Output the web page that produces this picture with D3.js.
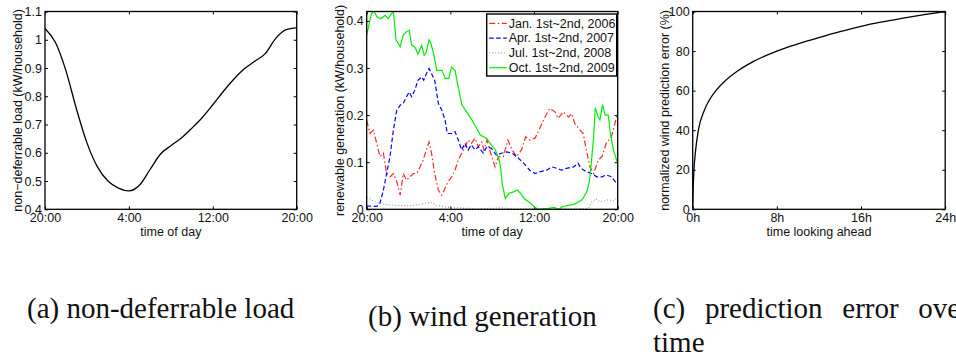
<!DOCTYPE html>
<html>
<head>
<meta charset="utf-8">
<script src="https://cdn.jsdelivr.net/npm/d3@7"></script>
<style>
	body { margin: 0; background: #fff; }
	svg { display: block; }
</style>
</head>
<body>
<script>
// ---- data ----

// (a) non-deferrable load, hourly, starting at 20:00
var loadHours = [0, 1, 2, 3, 4, 5, 6, 7, 8, 9, 10, 11, 12, 13, 14, 15, 16, 17, 18, 19, 20, 21, 22, 23, 24];
var loadValues = [1.04, 0.99, 0.89, 0.755, 0.635, 0.55, 0.50, 0.475, 0.465, 0.485, 0.54, 0.595, 0.625,
	0.652, 0.687, 0.725, 0.77, 0.817, 0.86, 0.897, 0.924, 0.951, 1.005, 1.036, 1.042];
var loadTicks = [0.4, 0.5, 0.6, 0.7, 0.8, 0.9, 1, 1.1];

// shared time-of-day axis (hours after 20:00)
var dayTicks = [0, 8, 16, 24];
var dayTickLabels = ['20:00', '4:00', '12:00', '20:00'];

// (b) wind generation, [hours after 20:00, kW/household]
var seriesNames = ['Jan. 1st~2nd, 2006', 'Apr. 1st~2nd, 2007', 'Jul. 1st~2nd, 2008', 'Oct. 1st~2nd, 2009'];
var jan2006 = [[0, 0.189], [0.32, 0.161], [0.64, 0.168], [0.96, 0.14], [1.27, 0.112], [1.6, 0.119], [1.9, 0.076],
	[2.23, 0.069], [2.55, 0.076], [2.87, 0.059], [3.2, 0.03], [3.5, 0.076], [3.8, 0.062], [4.14, 0.069],
	[4.46, 0.076], [4.78, 0.076], [5.1, 0.09], [5.4, 0.105], [5.7, 0.126], [5.96, 0.143], [6.2, 0.119],
	[6.5, 0.076], [6.85, 0.041], [7.17, 0.03], [7.5, 0.045], [7.8, 0.059], [8.13, 0.069], [8.44, 0.083],
	[8.76, 0.105], [9.08, 0.119], [9.4, 0.133], [9.7, 0.147], [10.0, 0.14], [10.36, 0.151], [10.67, 0.133],
	[11.0, 0.143], [11.2, 0.126], [11.5, 0.147], [11.95, 0.112], [12.27, 0.09], [12.6, 0.112], [13.06, 0.112],
	[13.5, 0.147], [13.9, 0.126], [14.34, 0.112], [14.8, 0.126], [15.2, 0.154], [15.6, 0.147], [16.1, 0.151],
	[16.6, 0.175], [17.05, 0.196], [17.5, 0.214], [18.0, 0.207], [18.3, 0.193], [18.8, 0.207], [19.3, 0.196],
	[19.6, 0.203], [19.9, 0.182], [20.4, 0.168], [20.7, 0.161], [21.0, 0.126], [21.35, 0.09], [21.7, 0.076],
	[22.15, 0.105], [22.5, 0.112], [22.9, 0.14], [23.4, 0.154], [23.9, 0.196], [24, 0.2]];
var apr2007 = [[0, 0.007], [0.96, 0.006], [1.27, 0.013], [1.6, 0.041], [1.9, 0.076], [2.23, 0.112], [2.55, 0.168],
	[2.87, 0.21], [3.2, 0.221], [3.5, 0.225], [3.8, 0.239], [4.07, 0.249], [4.3, 0.239], [4.6, 0.253],
	[4.9, 0.274], [5.26, 0.281], [5.45, 0.274], [5.7, 0.288], [5.96, 0.299], [6.2, 0.288], [6.5, 0.274],
	[6.85, 0.225], [7.17, 0.211], [7.5, 0.189], [7.7, 0.161], [8.13, 0.161], [8.44, 0.165], [8.76, 0.147],
	[9.08, 0.126], [9.4, 0.14], [9.7, 0.126], [10.0, 0.137], [10.36, 0.126], [10.67, 0.133], [11.15, 0.119],
	[11.5, 0.133], [11.95, 0.129], [12.4, 0.115], [12.9, 0.119], [13.4, 0.122], [13.9, 0.119], [14.34, 0.112],
	[15.0, 0.098], [15.6, 0.083], [16.1, 0.076], [16.6, 0.08], [17.2, 0.083], [17.7, 0.09], [18.2, 0.087],
	[18.65, 0.083], [19.1, 0.087], [19.8, 0.09], [20.2, 0.098], [20.5, 0.087], [21.0, 0.08], [21.5, 0.076],
	[22.0, 0.069], [22.5, 0.069], [22.9, 0.073], [23.4, 0.069], [23.9, 0.055], [24, 0.056]];
var jul2008 = [[0, 0.025], [0.2, 0.023], [0.8, 0.016], [1.5, 0.011], [2.8, 0.008], [4.3, 0.008], [5.3, 0.011],
	[6.1, 0.015], [6.7, 0.008], [7.8, 0.004], [9, 0.003], [10.5, 0.001], [12, 0.002], [13, 0.003], [14, 0.001],
	[16, 0.001], [18, 0.001], [20, 0.001], [21.2, 0.002], [21.55, 0.016], [21.9, 0.022], [22.3, 0.016],
	[23, 0.02], [23.6, 0.018], [24, 0.025]];
var oct2009 = [[0, 0.37], [0.45, 0.415], [0.7, 0.42], [1.0, 0.408], [1.4, 0.405], [1.75, 0.412], [2.07, 0.405],
	[2.35, 0.415], [2.55, 0.42], [2.8, 0.36], [3.2, 0.345], [3.5, 0.37], [3.8, 0.377], [4.07, 0.38], [4.3, 0.348],
	[4.6, 0.345], [4.9, 0.33], [5.25, 0.348], [5.5, 0.327], [5.7, 0.334], [5.95, 0.36], [6.1, 0.355],
	[6.4, 0.33], [6.7, 0.295], [7.2, 0.295], [7.5, 0.278], [7.85, 0.278], [8.1, 0.302], [8.45, 0.295],
	[8.75, 0.26], [9.1, 0.222], [9.55, 0.207], [10.05, 0.19], [10.5, 0.172], [10.85, 0.158], [11.5, 0.15],
	[11.8, 0.14], [12.3, 0.126], [12.6, 0.11], [12.8, 0.09], [12.95, 0.055], [13.25, 0.023], [13.6, 0.034],
	[14.05, 0.037], [14.4, 0.041], [14.7, 0.034], [15.1, 0.022], [15.5, 0.016], [16.1, 0.004], [16.4, 0],
	[17.4, 0.002], [17.9, 0.004], [18.4, 0], [18.7, 0.006], [19.9, 0.011], [20.6, 0.02], [21.05, 0.037],
	[21.3, 0.06], [21.5, 0.105], [21.7, 0.155], [21.85, 0.215], [22.15, 0.195], [22.3, 0.19], [22.55, 0.222],
	[22.8, 0.2], [23.1, 0.2], [23.3, 0.16], [23.6, 0.125], [24, 0.097]];
var windTicks = [0, 0.1, 0.2, 0.3, 0.4];

// (c) prediction error vs. look-ahead time
var aheadHours = [0, 0.03, 0.12, 0.25, 0.54, 1.1, 1.5, 2.2, 3, 4.3, 5.7, 8, 10, 12, 14, 16, 18, 20, 22, 24];
var errorValues = [0, 8, 20, 28.5, 40, 50, 54.5, 60, 64.5, 70, 74.5, 80, 83.6, 86.8, 89.8, 92.5, 94.7, 96.6, 98.4, 100];
var aheadTicks = [0, 8, 16, 24];
var aheadTickLabels = ['0h', '8h', '16h', '24h'];
var errorTicks = [0, 20, 40, 60, 80, 100];

var captions = ['(a) non-deferrable load', '(b) wind generation', '(c) prediction error over', 'time'];

// ---- layout ----
var width = 956,
	height = 357,
	plotTop = 11.5,
	plotH = 197.8;

var svg = d3.select('body').append('svg')
	.attr('width', width)
	.attr('height', height);

var sans = 'Liberation Sans, Arial, Helvetica, sans-serif';

// one boxed MATLAB-style axes with inward ticks on all four sides
function panel(opt) {
	var g = svg.append('g')
		.attr('transform', 'translate(' + opt.left + ',' + plotTop + ')');

	var x = d3.scaleLinear().domain([0, 24]).range([0, opt.width]);
	var y = d3.scaleLinear().domain(opt.yDomain).range([plotH, 0]);

	g.append('clipPath').attr('id', opt.id + '-clip')
		.append('rect').attr('width', opt.width).attr('height', plotH);

	g.append('g')
		.attr('class', 'axis')
		.attr('transform', 'translate(0,' + plotH + ')')
		.call(d3.axisBottom(x).tickValues(opt.xTicks)
			.tickFormat(function(d) { return opt.xLabels[opt.xTicks.indexOf(d)]; })
			.tickSize(-3).tickSizeOuter(0).tickPadding(4));
	g.append('g')
		.attr('class', 'axis')
		.call(d3.axisTop(x).tickValues(opt.xTicks).tickFormat('').tickSize(-3).tickSizeOuter(0));
	g.append('g')
		.attr('class', 'axis')
		.call(d3.axisLeft(y).tickValues(opt.yTicks)
			.tickFormat(function(d) { return String(d); })
			.tickSize(-3).tickSizeOuter(0).tickPadding(3));
	g.append('g')
		.attr('class', 'axis')
		.attr('transform', 'translate(' + opt.width + ',0)')
		.call(d3.axisRight(y).tickValues(opt.yTicks).tickFormat('').tickSize(-3).tickSizeOuter(0));

	g.selectAll('.domain').remove();
	g.selectAll('.axis')
		.attr('font-family', sans)
		.attr('font-size', 12.5);
	g.selectAll('.tick line').attr('stroke', '#000').attr('stroke-width', 1);
	g.selectAll('.tick text').attr('fill', '#111');

	// x label
	g.append('text')
		.attr('x', opt.width / 2)
		.attr('y', plotH + 27)
		.attr('text-anchor', 'middle')
		.style('font-family', sans)
		.style('font-size', '12.5px')
		.attr('fill', '#111')
		.text(opt.xTitle);

	// y label
	g.append('text')
		.attr('transform', 'translate(' + opt.yTitleX + ',' + (plotH / 2) + ') rotate(-90)')
		.attr('text-anchor', 'middle')
		.attr('dy', '0.35em')
		.style('font-family', sans)
		.style('font-size', '12.5px')
		.attr('fill', '#111')
		.text(opt.yTitle);

	var plot = g.append('g').attr('clip-path', 'url(#' + opt.id + '-clip)');

	return {g: g, plot: plot, x: x, y: y, w: opt.width};
}

function frame(p) {
	p.g.append('rect')
		.attr('width', p.w)
		.attr('height', plotH)
		.attr('fill', 'none')
		.attr('stroke', '#000')
		.attr('stroke-width', 1.3);
}

// ---- (a) ----
var pa = panel({
	id: 'a', left: 45, width: 251.7, yDomain: [0.4, 1.1],
	xTicks: dayTicks, xLabels: dayTickLabels, yTicks: loadTicks,
	xTitle: 'time of day', yTitle: 'non\u2212deferrable load (kW/household)', yTitleX: -27
});
pa.plot.append('path')
	.datum(loadHours)
	.attr('fill', 'none')
	.attr('stroke', '#000')
	.attr('stroke-width', 1.3)
	.attr('d', d3.line()
		.x(function(d) { return pa.x(d); })
		.y(function(d, i) { return pa.y(loadValues[i]); })
		.curve(d3.curveMonotoneX));
frame(pa);

// ---- (b) ----
var pb = panel({
	id: 'b', left: 366.7, width: 251, yDomain: [0, 0.42],
	xTicks: dayTicks, xLabels: dayTickLabels, yTicks: windTicks,
	xTitle: 'time of day', yTitle: 'renewable generation (kW/household)', yTitleX: -27
});

var windSeries = [jan2006, apr2007, jul2008, oct2009];
var windColors = ['#ff0000', '#0000ff', '#8a8a8a', '#00ee00'];
var windDash = ['6,2.5,1.5,2.5', '4.5,2.5', '1,2', null];
var windOpacity = [0.85, 1, 0.8, 1];

var windLine = d3.line()
	.x(function(d) { return pb.x(d[0]); })
	.y(function(d) { return pb.y(d[1]); });

pb.plot.selectAll('.wind')
	.data(windSeries)
	.enter().append('path')
	.attr('class', 'wind')
	.attr('fill', 'none')
	.attr('stroke', function(d, i) { return windColors[i]; })
	.attr('stroke-opacity', function(d, i) { return windOpacity[i]; })
	.attr('stroke-width', 1.2)
	.attr('stroke-dasharray', function(d, i) { return windDash[i]; })
	.attr('d', windLine);
frame(pb);

// legend, top-right inside the axes
var legend = pb.g.append('g').attr('transform', 'translate(' + (pb.w - 131) + ',2.5)');
legend.append('rect')
	.attr('width', 130)
	.attr('height', 62)
	.attr('fill', '#fff')
	.attr('stroke', '#000')
	.attr('stroke-width', 1.4);
var entry = legend.selectAll('.entry')
	.data(seriesNames)
	.enter().append('g')
	.attr('class', 'entry')
	.attr('transform', function(d, i) { return 'translate(0,' + (9.3 + i * 14.8) + ')'; });
entry.append('line')
	.attr('x1', 2.5).attr('x2', 20)
	.attr('stroke', function(d, i) { return windColors[i]; })
	.attr('stroke-opacity', function(d, i) { return windOpacity[i]; })
	.attr('stroke-width', 1.2)
	.attr('stroke-dasharray', function(d, i) { return windDash[i]; });
entry.append('text')
	.attr('x', 22)
	.attr('dy', '0.35em')
	.style('font-family', sans)
	.style('font-size', '12.5px')
	.attr('fill', '#111')
	.text(function(d) { return d; });

// ---- (c) ----
var pc = panel({
	id: 'c', left: 692.7, width: 252.5, yDomain: [0, 100],
	xTicks: aheadTicks, xLabels: aheadTickLabels, yTicks: errorTicks,
	xTitle: 'time looking ahead', yTitle: 'normalized wind prediction error (%)', yTitleX: -28.4
});
pc.plot.append('path')
	.datum(aheadHours)
	.attr('fill', 'none')
	.attr('stroke', '#000')
	.attr('stroke-width', 1.3)
	.attr('d', d3.line()
		.x(function(d) { return pc.x(d); })
		.y(function(d, i) { return pc.y(errorValues[i]); })
		.curve(d3.curveMonotoneX));
frame(pc);

// ---- sub-captions ----
var serif = 'Liberation Serif, Times New Roman, serif';
var capPos = [[27, 318, 0], [368, 325.5, 0], [653, 318, 12.5], [653, 352, 0]];
svg.selectAll('.caption')
	.data(captions)
	.enter().append('text')
	.attr('class', 'caption')
	.attr('x', function(d, i) { return capPos[i][0]; })
	.attr('y', function(d, i) { return capPos[i][1]; })
	.style('word-spacing', function(d, i) { return capPos[i][2] + 'px'; })
	.style('font-family', serif)
	.style('font-size', '29px')
	.attr('fill', '#111')
	.text(function(d) { return d; });
</script>
</body>
</html>
